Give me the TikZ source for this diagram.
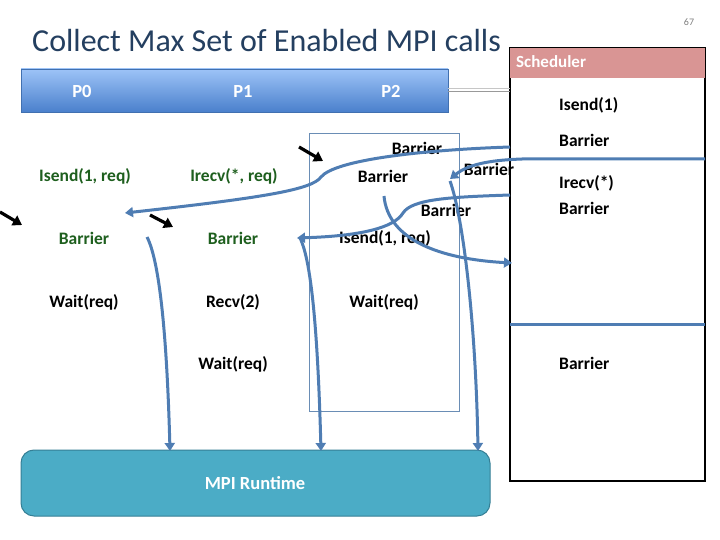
\documentclass[tikz,border=0pt]{standalone}
\usepackage{fontspec}
\setmainfont{Carlito}
\usetikzlibrary{arrows.meta}
\definecolor{titleblue}{HTML}{243F60}
\definecolor{codegreen}{HTML}{1E5F1E}
\definecolor{flowblue}{HTML}{4F7DB3}
\definecolor{boxblue}{HTML}{6A8DB5}
\definecolor{bartop}{HTML}{9DC3F7}
\definecolor{barbot}{HTML}{4A80CC}
\definecolor{barline}{HTML}{4170B0}
\definecolor{rtfill}{HTML}{4BACC6}
\definecolor{rtline}{HTML}{357F95}
\definecolor{schedpink}{HTML}{D99594}
\begin{document}
\begin{tikzpicture}[x=1pt,y=-1pt,
  body/.style={font=\fontsize{17.5}{20}\selectfont\bfseries, inner sep=0pt},
  greentxt/.style={body, text=codegreen},
  blacktxt/.style={body, text=black},
  proc/.style={font=\fontsize{18.5}{20}\selectfont\bfseries, text=white, inner sep=0pt},
  flow/.style={draw=flowblue, line width=3pt, -{Triangle[width=10pt,length=8pt]}},
  flowline/.style={draw=flowblue, line width=3pt},
  ptr/.style={draw=black, line width=3.2pt, -{Triangle[width=11pt,length=9pt]}},
  ]
\useasboundingbox (0,0) rectangle (720,540);
\fill[white] (0,0) rectangle (720,540);

% title and page number
\node[anchor=west, inner sep=0pt, text=titleblue, font=\fontsize{32}{34}\selectfont] (title) at (32,41) {Collect Max Set of Enabled MPI calls};
\node[inner sep=0pt, text=gray, font=\fontsize{10}{12}\selectfont] (pagenum) at (689,22) {67};

% process bar
\shade[top color=bartop, bottom color=barbot, draw=barline, line width=0.8pt] (21,69) rectangle (448,112);
\node[proc] (p0) at (82,91) {P0};
\node[proc] (p1) at (243,91) {P1};
\node[proc] (p2) at (391,91) {P2};

% scheduler
\draw[black, line width=1.2pt] (510,48) rectangle (705,481);
\fill[schedpink] (510,48) rectangle (705,78);
\node[anchor=west, inner sep=0pt, text=white, font=\fontsize{17}{20}\selectfont\bfseries] (sched) at (516,62) {Scheduler};
\coordinate (barR) at (448,90);
\coordinate (schedL) at (510,90);
\draw[gray!80, line width=1pt] ([yshift=-1.8pt]barR) -- ([yshift=-1.8pt]schedL);
\draw[gray!45, line width=1pt] ([yshift=1.8pt]barR) -- ([yshift=1.8pt]schedL);

\node[blacktxt, anchor=west] (s1) at (559,105) {Isend(1)};
\node[blacktxt, anchor=west] (s2) at (559,140) {Barrier};
\node[blacktxt, anchor=west] (s3) at (559,183) {Irecv(*)};
\node[blacktxt, anchor=west] (s4) at (559,208) {Barrier};
\node[blacktxt, anchor=west] (s5) at (559,363) {Barrier};

% P2 box
\draw[boxblue, line width=0.8pt] (309,133) rectangle (459,411);

% MPI runtime
\draw[fill=rtfill, draw=rtline, line width=1pt, rounded corners=13pt] (21,450) rectangle (490,516);
\node[proc] (rt) at (255,483) {MPI Runtime};

% P0 column
\node[greentxt] (isend0) at (85,176) {Isend(1, req)};
\node[greentxt] (bar0) at (84,238) {Barrier};
\node[blacktxt] (wait0) at (84,302) {Wait(req)};
% P1 column
\node[greentxt] (irecv1) at (234,176) {Irecv(*, req)};
\node[greentxt] (bar1) at (233,238) {Barrier};
\node[blacktxt] (recv1) at (233,302) {Recv(2)};
\node[blacktxt] (wait1) at (233,364) {Wait(req)};
% P2 column
\node[blacktxt] (b21) at (417,148) {Barrier};
\node[blacktxt] (b22) at (383,176) {Barrier};
\node[blacktxt] (b23) at (489,169) {Barrier};
\node[blacktxt] (b24) at (446,210) {Barrier};
\node[blacktxt] (isend2) at (385,238) {Isend(1, req)};
\node[blacktxt] (wait2) at (384,302) {Wait(req)};

% coordinates for the flows
\coordinate (c1s) at (510,147);
\coordinate (c1e) at (125,213);
\coordinate (c2a) at (705,159);
\coordinate (c2b) at (522,159);
\coordinate (c2e) at (450,179);
\coordinate (c3s) at (450,181);
\coordinate (c3e) at (478,451);
\coordinate (c4s) at (510,195);
\coordinate (c4e) at (297,238);
\coordinate (c5s) at (300,238);
\coordinate (c5e) at (321,451);
\coordinate (c6s) at (147,237);
\coordinate (c6e) at (170,451);
\coordinate (c7s) at (384,196);
\coordinate (c7e) at (512,263);
\coordinate (c8a) at (510,324);
\coordinate (c8b) at (705,324);

% blue flows
\draw[flow] (c1s) .. controls (420,150) and (335,160) .. (321,177)
  .. controls (312,190) and (260,198) .. (c1e);
\draw[flow] (c2a) -- (c2b) .. controls (495,160) and (470,163) .. (c2e);
\draw[flow] (c3s) .. controls (464,220) and (476,330) .. (c3e);
\draw[flow] (c4s) .. controls (450,197) and (412,199) .. (403,213)
  .. controls (394,228) and (360,236) .. (c4e);
\draw[flow] (c5s) .. controls (312,262) and (318,340) .. (c5e);
\draw[flow] (c6s) .. controls (160,262) and (167,340) .. (c6e);
\draw[flow] (c7s) .. controls (388,240) and (440,259) .. (c7e);
\draw[flowline] (c8a) -- (c8b);

% black pointers
\coordinate (k1s) at (0,212);
\coordinate (k1e) at (22,225);
\coordinate (k2s) at (150,215);
\coordinate (k2e) at (173,227);
\coordinate (k3s) at (299,147);
\coordinate (k3e) at (323,161);
\draw[ptr] (k1s) -- (k1e);
\draw[ptr] (k2s) -- (k2e);
\draw[ptr] (k3s) -- (k3e);
\end{tikzpicture}
\end{document}
